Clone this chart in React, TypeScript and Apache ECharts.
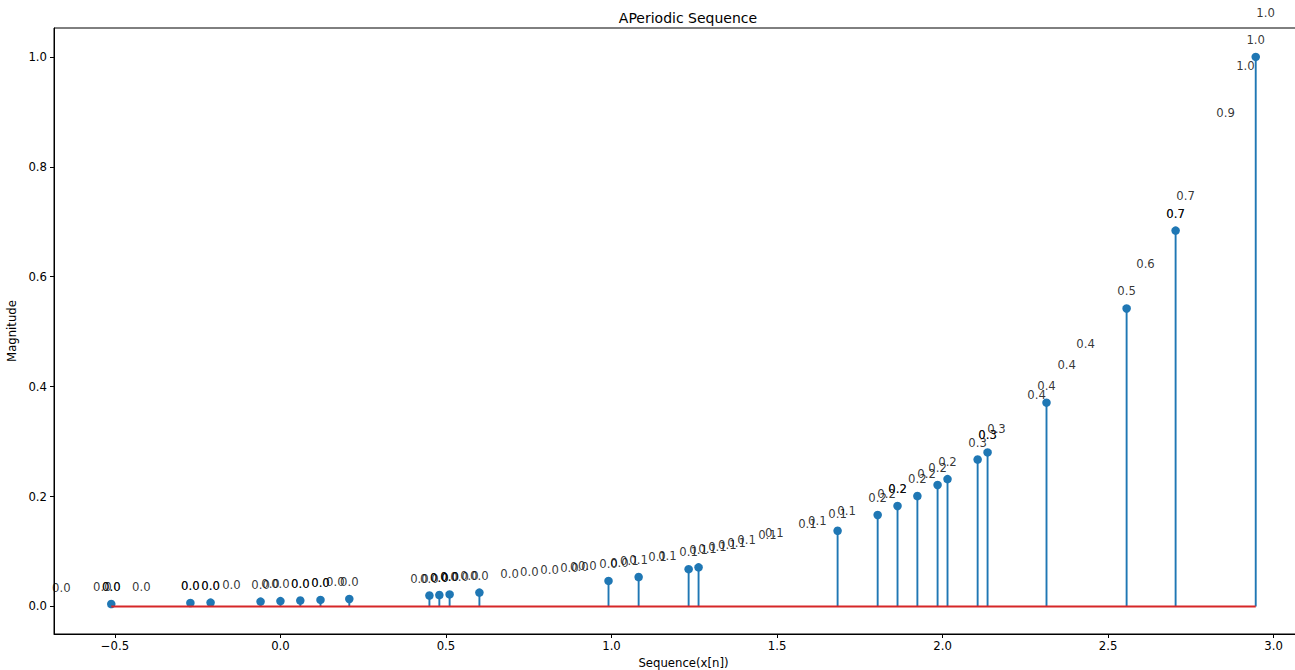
import React, { useEffect, useRef } from "react";
import * as echarts from "echarts";

// Stem sequence (x[n], magnitude)
const stemX = [-0.511, -0.272, -0.211, -0.06, 0.0, 0.06, 0.121, 0.208, 0.45, 0.48, 0.511, 0.601, 0.991, 1.082, 1.233, 1.263, 1.683, 1.804, 1.864, 1.924, 1.985, 2.015, 2.106, 2.136, 2.314, 2.556, 2.704, 2.946];
const stemY = [0.0044, 0.0064, 0.007, 0.0089, 0.0098, 0.0108, 0.0119, 0.0136, 0.0199, 0.0208, 0.0219, 0.0252, 0.0465, 0.0536, 0.0679, 0.0712, 0.1377, 0.1665, 0.1829, 0.201, 0.2211, 0.2318, 0.2674, 0.2803, 0.3708, 0.5422, 0.6839, 1.0];

// Extra annotation anchors (points annotated with their values)
const noteX = [-0.662, -0.538, -0.511, -0.42, -0.272, -0.211, -0.148, -0.03, 0.06, 0.121, 0.166, 0.42, 0.48, 0.511, 0.541, 0.571, 0.692, 0.752, 0.813, 0.873, 0.903, 0.927, 1.024, 1.054, 1.139, 1.169, 1.29, 1.32, 1.35, 1.378, 1.408, 1.471, 1.492, 1.592, 1.622, 1.71, 1.831, 1.864, 1.952, 2.136, 2.163, 2.284, 2.375, 2.432, 2.613, 2.704, 2.734, 2.855, 2.915, 2.976];
const noteY = [0.0035, 0.0042, 0.0044, 0.0051, 0.0064, 0.007, 0.0078, 0.0094, 0.0108, 0.0119, 0.0127, 0.019, 0.0208, 0.0219, 0.0229, 0.024, 0.029, 0.0319, 0.0351, 0.0386, 0.0404, 0.042, 0.0489, 0.0513, 0.0586, 0.0614, 0.0743, 0.0778, 0.0816, 0.0853, 0.0894, 0.0987, 0.102, 0.1193, 0.1251, 0.1436, 0.1736, 0.1829, 0.21, 0.2803, 0.2925, 0.3538, 0.4081, 0.4462, 0.5928, 0.6839, 0.7168, 0.8668, 0.9522, 1.0481];

const xTicks = [-0.5, 0.0, 0.5, 1.0, 1.5, 2.0, 2.5, 3.0];
const yTicks = [0.0, 0.2, 0.4, 0.6, 0.8, 1.0];

const TITLE = "APeriodic Sequence";
const XNAME = "Sequence(x[n])";
const YNAME = "Magnitude";

const FONT = "DejaVu Sans";
const FS = 11.7;

export default function App() {
  const ref = useRef<HTMLDivElement>(null);
  useEffect(() => {
    if (!ref.current) return;
    const chart = echarts.init(ref.current, null, { renderer: "svg" });
    const stems = stemX.map((x, i) => [x, stemY[i]]);
    const notes = [
      ...stems,
      ...noteX.map((x, i) => [x, noteY[i]]),
    ];
    const xMin = Math.min(...stemX);
    const xMax = Math.max(...stemX);
    const fmt = (v: number) => v.toFixed(1).replace("-", "\u2212");
    chart.setOption({
      animation: false,
      backgroundColor: "#fff",
      textStyle: { fontFamily: FONT },
      title: {
        text: TITLE,
        left: 683,
        textAlign: "center",
        top: 6,
        textStyle: { fontFamily: FONT, fontSize: 14, fontWeight: "normal", color: "#000" },
      },
      grid: {
        left: 54,
        top: 28,
        right: 17,
        bottom: 36,
        outerBoundsMode: "none",
        containLabel: false,
        show: true,
        borderColor: "#000",
        borderWidth: 1,
        backgroundColor: "transparent",
      },
      xAxis: {
        type: "value",
        min: -0.684,
        max: 3.119,
        name: XNAME,
        nameLocation: "middle",
        nameGap: 23,
        nameTextStyle: { fontFamily: FONT, fontSize: FS, color: "#000" },
        splitLine: { show: false },
        axisLine: { show: true, onZero: false, lineStyle: { color: "#000", width: 1 } },
        axisTick: { show: true, length: 4, lineStyle: { color: "#000" }, customValues: xTicks },
        axisLabel: {
          fontFamily: FONT,
          fontSize: FS,
          color: "#000",
          margin: 6,
          customValues: xTicks,
          formatter: (v: number) => fmt(v),
        },
      },
      yAxis: {
        type: "value",
        min: -0.0501,
        max: 1.0526,
        name: YNAME,
        nameLocation: "middle",
        nameGap: 28,
        nameTextStyle: { fontFamily: FONT, fontSize: FS, color: "#000" },
        splitLine: { show: false },
        axisLine: { show: true, onZero: false, lineStyle: { color: "#000", width: 1 } },
        axisTick: { show: true, length: 4, lineStyle: { color: "#000" }, customValues: yTicks },
        axisLabel: {
          fontFamily: FONT,
          fontSize: FS,
          color: "#000",
          margin: 7,
          customValues: yTicks,
          formatter: (v: number) => v.toFixed(1),
        },
      },
      series: [
        {
          type: "custom",
          name: "stems",
          data: stems,
          z: 2,
          renderItem: (params: any, api: any) => {
            const x = api.value(0);
            const y = api.value(1);
            const p0 = api.coord([x, 0]);
            const p1 = api.coord([x, y]);
            return {
              type: "line",
              shape: { x1: p0[0], y1: p0[1], x2: p1[0], y2: p1[1] },
              style: { stroke: "#1f77b4", lineWidth: 1.9 },
            };
          },
        },
        {
          type: "scatter",
          name: "markers",
          data: stems,
          symbol: "circle",
          symbolSize: 8.5,
          itemStyle: { color: "#1f77b4", opacity: 1 },
          z: 3,
        },
        {
          type: "line",
          name: "baseline",
          data: [
            [xMin, 0],
            [xMax, 0],
          ],
          symbol: "none",
          lineStyle: { color: "#d62728", width: 1.9 },
          z: 4,
        },
        {
          type: "scatter",
          name: "notes",
          data: notes,
          symbolSize: 1,
          itemStyle: { color: "transparent" },
          clip: false,
          z: 5,
          label: {
            show: true,
            position: "inside",
            offset: [0, -17],
            color: "#000",
            textBorderWidth: 0,
            textBorderColor: "transparent",
            fontFamily: FONT,
            fontSize: FS,
            formatter: (p: any) => (p.value[1] as number).toFixed(1),
          },
          emphasis: { disabled: true },
        },
      ],
    });
    return () => chart.dispose();
  }, []);
  return (
    <div
      ref={ref}
      style={{ position: "fixed", left: 0, top: 0, width: 1330, height: 670 }}
    />
  );
}
